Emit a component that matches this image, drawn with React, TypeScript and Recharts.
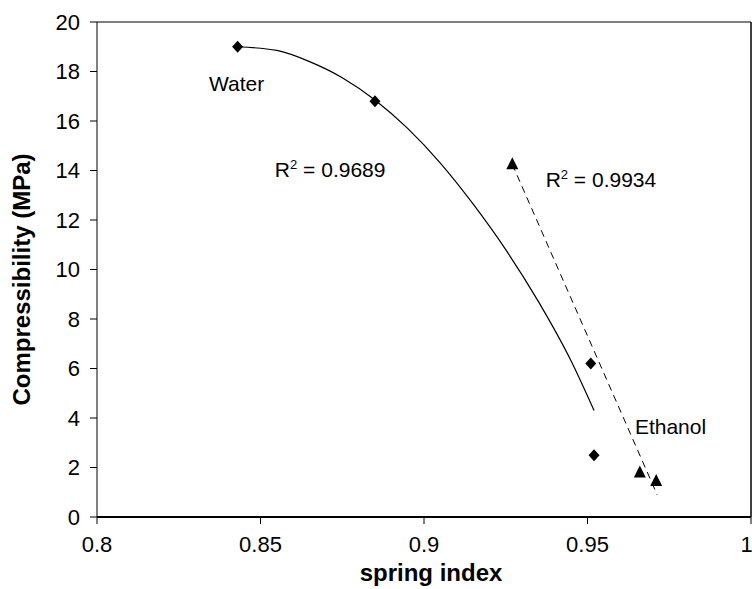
import {
  ScatterChart,
  Scatter,
  XAxis,
  YAxis,
  ReferenceLine,
  ReferenceDot,
} from "recharts";

// measured points
const waterSpring = [0.843, 0.885, 0.951, 0.952];
const waterComp = [19.0, 16.8, 6.2, 2.5];
const ethanolSpring = [0.927, 0.966, 0.971];
const ethanolComp = [14.25, 1.8, 1.45];

// trend lines
const waterFitSpring = [0.843, 0.855, 0.865, 0.875, 0.885, 0.895, 0.905, 0.915, 0.925, 0.935, 0.945, 0.952];
const waterFitComp = [19.0, 18.85, 18.4, 17.75, 16.85, 15.7, 14.3, 12.65, 10.8, 8.7, 6.3, 4.3];
const ethanolFitSpring = [0.927, 0.9713];
const ethanolFitComp = [14.25, 0.9];

const xTicks = [0.8, 0.85, 0.9, 0.95, 1];
const yTicks = [0, 2, 4, 6, 8, 10, 12, 14, 16, 18, 20];

const zip = (xs: number[], ys: number[]) => xs.map((x, i) => ({ x, y: ys[i] }));

const water = zip(waterSpring, waterComp);
const ethanol = zip(ethanolSpring, ethanolComp);
const waterFit = zip(waterFitSpring, waterFitComp);
const ethanolFit = zip(ethanolFitSpring, ethanolFitComp);

const FONT = "'Liberation Sans', Arial, Helvetica, sans-serif";

const Diamond = (p: any) => (
  <polygon
    points={`${p.cx},${p.cy - 6} ${p.cx + 5.5},${p.cy} ${p.cx},${p.cy + 6} ${p.cx - 5.5},${p.cy}`}
    fill="#000"
  />
);

const Triangle = (p: any) => (
  <polygon
    points={`${p.cx},${p.cy - 7} ${p.cx + 6},${p.cy + 5} ${p.cx - 6},${p.cy + 5}`}
    fill="#000"
  />
);

const NoDot = () => <g />;

function note(text: string, anchor: "start" | "middle" = "start", sup?: string, rest?: string) {
  return (props: any) => {
    const { x, y } = props.viewBox;
    return (
      <text x={x} y={y} textAnchor={anchor} fontSize={21} fill="#000" fontFamily={FONT}>
        <tspan>{text}</tspan>
        {sup && (
          <tspan dy={-8} fontSize={13}>
            {sup}
          </tspan>
        )}
        {rest && <tspan dy={sup ? 8 : 0}>{rest}</tspan>}
      </text>
    );
  };
}

export default function App() {
  return (
    <div style={{ position: "absolute", left: 0, top: 0, background: "#fff" }}>
      <ScatterChart
        width={752}
        height={589}
        margin={{ top: 22, right: 1, left: 0, bottom: 0 }}
        style={{ fontFamily: FONT }}
      >
        <XAxis
          type="number"
          dataKey="x"
          domain={[0.8, 1]}
          ticks={xTicks}
          height={72}
          tickSize={7}
          tickMargin={12}
          axisLine={{ stroke: "#000", strokeWidth: 2 }}
          tickLine={{ stroke: "#000" }}
          tick={{ fill: "#000", fontSize: 22 }}
          label={(props: any) => {
            const vb = props.viewBox;
            return (
              <text
                x={vb.x + vb.width / 2 + 7}
                y={581}
                textAnchor="middle"
                fontSize={24}
                fontWeight="bold"
                fill="#000"
                fontFamily={FONT}
              >
                spring index
              </text>
            );
          }}
        />
        <YAxis
          type="number"
          dataKey="y"
          domain={[0, 20]}
          ticks={yTicks}
          width={97}
          tickSize={7}
          tickMargin={10}
          axisLine={{ stroke: "#000" }}
          tickLine={{ stroke: "#000" }}
          tick={{ fill: "#000", fontSize: 22 }}
          label={(props: any) => {
            const vb = props.viewBox;
            const cy = vb.y + vb.height / 2 + 10;
            return (
              <text
                transform={`translate(21,${cy}) rotate(-90)`}
                textAnchor="middle"
                dominantBaseline="central"
                fontSize={24}
                fontWeight="bold"
                fill="#000"
                fontFamily={FONT}
              >
                Compressibility (MPa)
              </text>
            );
          }}
        />
        {/* box around plot area */}
        <ReferenceLine y={20} stroke="#000" strokeWidth={1} />
        <ReferenceLine x={1} stroke="#000" strokeWidth={1.5} />

        <Scatter
          data={waterFit}
          dataKey="y"
          line={{ stroke: "#000", strokeWidth: 1.2 }}
          lineJointType="monotoneX"
          shape={NoDot}
          isAnimationActive={false}
        />
        <Scatter
          data={ethanolFit}
          dataKey="y"
          line={{ stroke: "#000", strokeWidth: 1, strokeDasharray: "7 5" }}
          shape={NoDot}
          isAnimationActive={false}
        />
        <Scatter data={water} dataKey="y" shape={Diamond} isAnimationActive={false} />
        <Scatter data={ethanol} dataKey="y" shape={Triangle} isAnimationActive={false} />

        <ReferenceDot x={0.843} y={17.17} r={1} fill="none" stroke="none" label={note("Water", "middle")} />
        <ReferenceDot x={0.8547} y={13.7} r={1} fill="none" stroke="none" label={note("R", "start", "2", " = 0.9689")} />
        <ReferenceDot x={0.9375} y={13.28} r={1} fill="none" stroke="none" label={note("R", "start", "2", " = 0.9934")} />
        <ReferenceDot x={0.9648} y={3.31} r={1} fill="none" stroke="none" label={note("Ethanol")} />
      </ScatterChart>
    </div>
  );
}
